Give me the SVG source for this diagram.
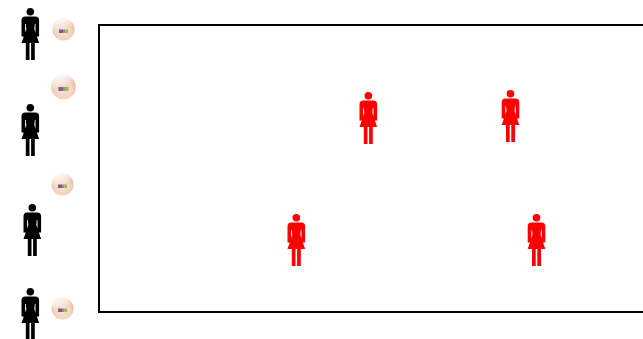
<svg xmlns="http://www.w3.org/2000/svg" xmlns:xlink="http://www.w3.org/1999/xlink" width="643" height="339" viewBox="0 0 643 339">
<style>.court{fill:#fff;stroke:#000;stroke-width:2}.black{fill:#000}.red{fill:#f00}</style>
<defs>
<radialGradient id="ball" cx="0.5" cy="0.6" r="0.55"><stop offset="0" stop-color="#f6e2d6"/><stop offset="0.65" stop-color="#f4d4c0"/><stop offset="1" stop-color="#e6b898"/></radialGradient>
<linearGradient id="gloss" x1="0.35" y1="0" x2="0.5" y2="0.5"><stop offset="0" stop-color="#fff" stop-opacity="1"/><stop offset="0.45" stop-color="#fff" stop-opacity="0.65"/><stop offset="1" stop-color="#fff" stop-opacity="0"/></linearGradient>
<symbol id="woman" overflow="visible"><circle cx="0" cy="3.800" r="3.800"/><path d="M-5 8.600H5Q8.800 8.600 8.800 12.500V28.500H5.200V16L4.500 16L4 21L8.800 35H4.500V52H0.800V35H-0.800V52H-4.500V35H-8.800L-4 21L-4.500 16L-5.200 16V28.500H-8.800V12.500Q-8.800 8.600 -5 8.600Z"/></symbol>
<g id="ballart"><circle r="11" fill="url(#ball)"/><circle r="11" fill="url(#gloss)"/><rect x="-4.500" y="0" width="4" height="3.500" fill="#7d5a96"/><rect x="-0.500" y="0" width="2.500" height="3.500" fill="#a0906e"/><rect x="2" y="0" width="2.500" height="3.500" fill="#8fbf55"/></g>
</defs>
<rect width="643" height="339" fill="#fff"/>
<rect class="court" x="99" y="25" width="560" height="287"/>
<g id="connectors"/>
<g id="player-black-1" class="black"><use xlink:href="#woman" href="#woman" x="30.300" y="8"/></g>
<g id="player-black-2" class="black"><use xlink:href="#woman" href="#woman" x="30.300" y="104"/></g>
<g id="player-black-3" class="black"><use xlink:href="#woman" href="#woman" x="32.300" y="204"/></g>
<g id="player-black-4" class="black"><use xlink:href="#woman" href="#woman" x="30.300" y="288"/></g>
<g id="ball-1"><use xlink:href="#ballart" href="#ballart" transform="translate(63.500 29.500)"/></g>
<g id="ball-2"><use xlink:href="#ballart" href="#ballart" transform="translate(63.500 87) scale(1.120)"/></g>
<g id="ball-3"><use xlink:href="#ballart" href="#ballart" transform="translate(62.500 184.500)"/></g>
<g id="ball-4"><use xlink:href="#ballart" href="#ballart" transform="translate(62.500 308.500)"/></g>
<g id="player-red-1" class="red"><use xlink:href="#woman" href="#woman" x="368.300" y="92"/></g>
<g id="player-red-2" class="red"><use xlink:href="#woman" href="#woman" x="510.500" y="90"/></g>
<g id="player-red-3" class="red"><use xlink:href="#woman" href="#woman" x="296.300" y="214"/></g>
<g id="player-red-4" class="red"><use xlink:href="#woman" href="#woman" x="536.500" y="214"/></g>
</svg>
